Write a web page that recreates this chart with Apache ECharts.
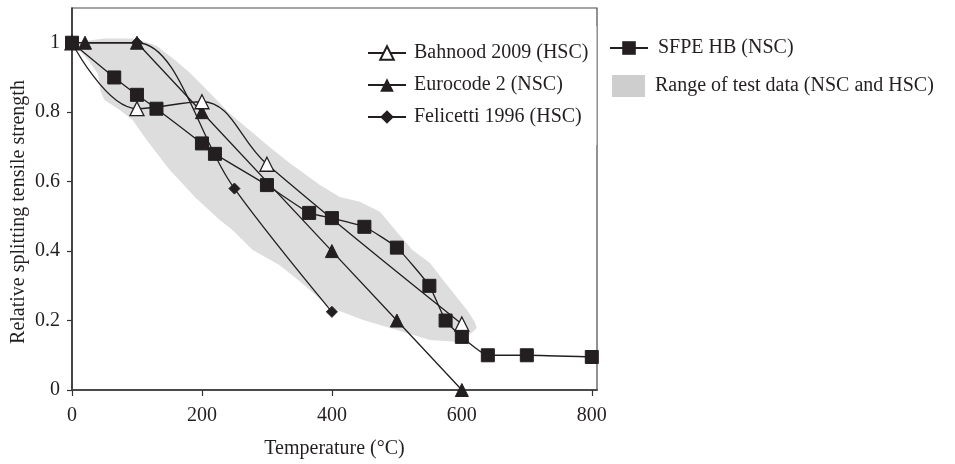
<!DOCTYPE html>
<html><head><meta charset="utf-8">
<script src="https://cdn.jsdelivr.net/npm/echarts@6/dist/echarts.min.js"></script>
<style>html,body{margin:0;padding:0;background:#fff}#c{width:955px;height:464px}</style>
</head><body><div id="c"></div>
<script>
// ---- data ----
const xTicks = [0, 200, 400, 600, 800];
const yTicks = [0, 0.2, 0.4, 0.6, 0.8, 1];
const yTickLabels = ['0', '0.2', '0.4', '0.6', '0.8', '1'];

const bahnoodX = [0, 100, 200, 300, 600];
const bahnoodY = [1, 0.81, 0.83, 0.65, 0.19];

const eurocodeX = [20, 100, 200, 400, 500, 600];
const eurocodeY = [1, 1, 0.8, 0.4, 0.2, 0];

const felicettiX = [0, 100, 250, 400];
const felicettiY = [1, 1, 0.58, 0.225];

const sfpeX = [0, 65, 100, 130, 200, 220, 300, 365, 400, 450, 500, 550, 575, 600, 640, 700, 800];
const sfpeY = [1, 0.9, 0.85, 0.81, 0.71, 0.68, 0.59, 0.51, 0.495, 0.47, 0.41, 0.30, 0.20, 0.153, 0.10, 0.10, 0.095];

// outline of the "range of test data" band (upper edge left->right, then lower edge right->left)
const rangeX = [0, 50, 99, 130, 158, 181, 212, 242, 273, 304, 335, 381, 412, 443, 474, 500, 524, 551, 571, 592, 610, 620, 623,
                617, 597, 551, 500, 447, 396, 350, 319, 278, 247, 227, 189, 165, 150, 130, 115, 104, 93, 73, 50, 44, 40, 25, 8];
const rangeY = [1.0, 1.012, 1.012, 0.991, 0.951, 0.914, 0.856, 0.798, 0.749, 0.700, 0.654, 0.591, 0.556, 0.542, 0.513, 0.455, 0.403, 0.366, 0.317, 0.268, 0.225, 0.195, 0.179,
                0.168, 0.138, 0.144, 0.173, 0.202, 0.239, 0.314, 0.36, 0.403, 0.461, 0.490, 0.556, 0.605, 0.634, 0.683, 0.720, 0.749, 0.778, 0.807, 0.835, 0.860, 0.910, 0.950, 0.985];

const names = ['Bahnood 2009 (HSC)', 'Eurocode 2 (NSC)', 'Felicetti 1996 (HSC)', 'SFPE HB (NSC)', 'Range of test data (NSC and HSC)'];

// ---- chart ----
const ink = '#231f20';
const font = 'Liberation Serif';
const zip = (xs, ys) => xs.map((x, i) => [x, ys[i]]);
const chart = echarts.init(document.getElementById('c'), null, {renderer: 'canvas'});

const lineBase = {
  type: 'line',
  lineStyle: {color: ink, width: 1.3},
  itemStyle: {color: ink, borderColor: ink},
  emphasis: {disabled: true},
  animation: false
};

chart.setOption({
  animation: false,
  textStyle: {fontFamily: font, color: ink},
  grid: {left: 72, right: 358, top: 8, bottom: 74, show: true, borderColor: '#4a4a4a', borderWidth: 1.2,
         containLabel: false, outerBoundsMode: 'none'},
  legend: [
    {
      data: names.slice(0, 3), orient: 'vertical', left: 362, top: 26,
      backgroundColor: '#fff', padding: [17, 8, 18, 5], itemGap: 12,
      itemWidth: 38, itemHeight: 17, selectedMode: false,
      textStyle: {fontFamily: font, fontSize: 20, color: ink, padding: [0, 0, 0, 3]}
    },
    {
      data: [names[3]], orient: 'vertical', left: 609, top: 38, padding: 0,
      itemWidth: 38, itemHeight: 17, selectedMode: false,
      textStyle: {fontFamily: font, fontSize: 20, color: ink, padding: [0, 0, 0, 5]}
    },
    {
      data: [{name: names[4], icon: 'rect', itemStyle: {color: '#cdcecd'}}],
      orient: 'vertical', left: 612, top: 75, padding: 0,
      itemWidth: 33, itemHeight: 22, selectedMode: false,
      textStyle: {fontFamily: font, fontSize: 20, color: ink, padding: [0, 0, 0, 5]}
    }
  ],
  xAxis: {
    type: 'value', min: 0, max: 808,
    name: 'Temperature (°C)', nameLocation: 'middle', nameGap: 49, nameMoveOverlap: false,
    nameTextStyle: {fontFamily: font, fontSize: 20, color: ink},
    axisLine: {show: true, lineStyle: {color: '#4a4a4a', width: 2}},
    axisTick: {show: true, customValues: xTicks, length: 6, lineStyle: {color: '#333', width: 1.2}},
    axisLabel: {customValues: xTicks, fontFamily: font, fontSize: 20, color: ink, margin: 16},
    splitLine: {show: false}
  },
  yAxis: {
    type: 'value', min: 0, max: 1.1,
    name: 'Relative splitting tensile strength', nameLocation: 'middle', nameGap: 43, nameMoveOverlap: false,
    nameTextStyle: {fontFamily: font, fontSize: 20, color: ink, padding: [0, 26, 0, 0]},
    axisLine: {show: true, lineStyle: {color: '#333', width: 1.6}},
    axisTick: {show: true, customValues: yTicks, length: 5, lineStyle: {color: '#333', width: 1.2}},
    axisLabel: {
      customValues: yTicks, fontFamily: font, fontSize: 20, color: ink, margin: 12,
      formatter: v => yTickLabels[yTicks.findIndex(t => Math.abs(t - v) < 1e-9)]
    },
    splitLine: {show: false}
  },
  series: [
    {
      name: names[4], type: 'custom', data: [[0, 0]], silent: true, z: 1,
      itemStyle: {color: '#cdcecd'},
      renderItem: function (params, api) {
        if (params.dataIndex !== 0) return null;
        const pts = rangeX.map((x, i) => api.coord([x, rangeY[i]]));
        return {type: 'polygon', shape: {points: pts}, style: {fill: '#dcdddc', stroke: null}};
      }
    },
    Object.assign({}, lineBase, {
      name: names[1], data: zip(eurocodeX, eurocodeY), symbol: 'triangle', symbolSize: 13, z: 3
    }),
    Object.assign({}, lineBase, {
      name: names[2], data: zip(felicettiX, felicettiY), symbol: 'diamond', symbolSize: 11, smooth: 0.35, z: 3
    }),
    Object.assign({}, lineBase, {
      name: names[0], data: zip(bahnoodX, bahnoodY), symbol: 'triangle', symbolSize: 14, smooth: 0.4, z: 4,
      itemStyle: {color: '#fff', borderColor: ink, borderWidth: 1.3}
    }),
    Object.assign({}, lineBase, {
      name: names[3], data: zip(sfpeX, sfpeY), symbol: 'rect', symbolSize: 13, smooth: 0.15, z: 5
    })
  ]
});
</script>
</body></html>
